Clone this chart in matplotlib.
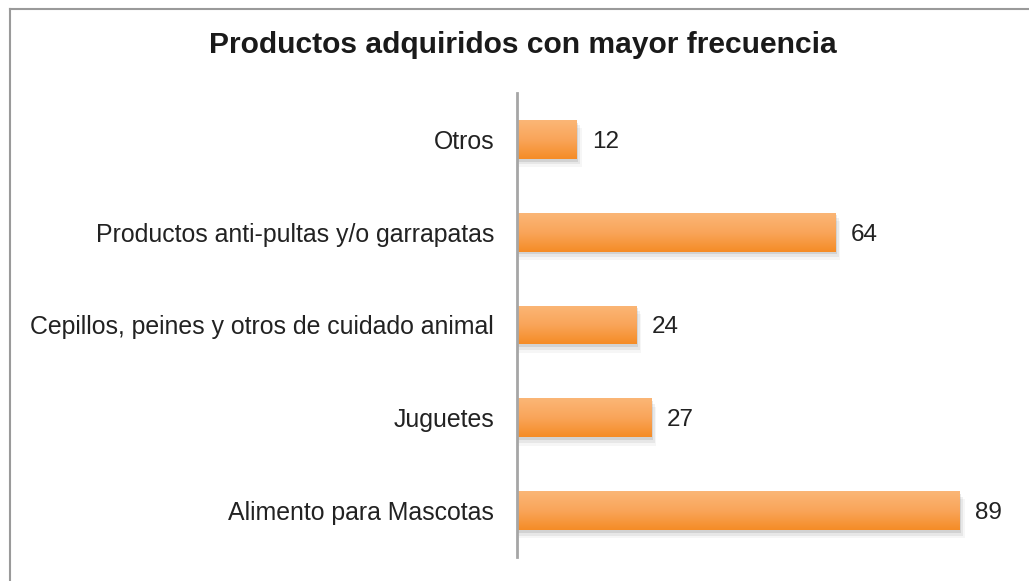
import matplotlib
matplotlib.use("Agg")
import matplotlib.pyplot as plt
import numpy as np
from matplotlib.patches import Rectangle
from matplotlib.lines import Line2D
from matplotlib.colors import LinearSegmentedColormap

plt.rcParams['font.family'] = ['Liberation Sans', 'DejaVu Sans']

categories = ["Alimento para Mascotas", "Juguetes",
              "Cepillos, peines y otros de cuidado animal",
              "Productos anti-pultas y/o garrapatas", "Otros"]
values = [89, 27, 24, 64, 12]
title = "Productos adquiridos con mayor frecuencia"

W, H = 1029, 581
fig = plt.figure(figsize=(W / 100, H / 100), dpi=100)
ax = fig.add_axes([517 / W, 1 - 557 / H, (1014 - 517) / W, (557 - 93) / H])

y = np.arange(len(categories))
bar_h = 0.42
cmap = LinearSegmentedColormap.from_list("og", ["#F58C26", "#F9A55A", "#FBB676"])
grad = np.linspace(0, 1, 100).reshape(-1, 1)

ax.set_xlim(0, 100)
ax.set_ylim(-0.5, len(categories) - 0.5)

for yi, v in zip(y, values):
    # soft shadow
    for k, a in enumerate([0.09, 0.06, 0.035]):
        off = 0.03 * (k + 1)
        sh = Rectangle((0, yi - bar_h / 2 - off), v + 0.35 * (k + 1), bar_h,
                       facecolor="#000000", alpha=a, edgecolor="none", zorder=1)
        ax.add_patch(sh)
    rect = Rectangle((0, yi - bar_h / 2), v, bar_h, facecolor="none",
                     edgecolor="none", zorder=2)
    ax.add_patch(rect)
    im = ax.imshow(grad, cmap=cmap, aspect="auto",
                   extent=(0, v, yi - bar_h / 2, yi + bar_h / 2),
                   origin="lower", zorder=2)
    im.set_clip_path(rect)
    ax.text(v + 3.1, yi, str(v), va="center_baseline", ha="left", fontsize=17.5,
            color="#222222", zorder=3)

ax.set_xlim(0, 100)
ax.set_ylim(-0.5, len(categories) - 0.5)
ax.set_yticks(y)
ax.set_yticklabels(categories, fontsize=17.9, color="#222222")
ax.tick_params(axis="y", length=0, pad=16.5)
ax.set_xticks([])
for s in ["top", "right", "bottom"]:
    ax.spines[s].set_visible(False)
ax.spines["left"].set_color("#A6A6A6")
ax.spines["left"].set_linewidth(2)
ax.set_facecolor("none")

fig.text(523 / W, 1 - 45 / H, title, ha="center", va="center",
         fontsize=21.6, fontweight="bold", color="#1a1a1a")

# outer border (top and left visible)
fig.add_artist(Line2D([9.5 / W, 1], [1 - 8.5 / H, 1 - 8.5 / H],
                      transform=fig.transFigure, color="#9A9A9A", lw=1.5))
fig.add_artist(Line2D([9.5 / W, 9.5 / W], [0, 1 - 8.5 / H],
                      transform=fig.transFigure, color="#9A9A9A", lw=1.5))

fig.savefig("out.png", dpi=100)
